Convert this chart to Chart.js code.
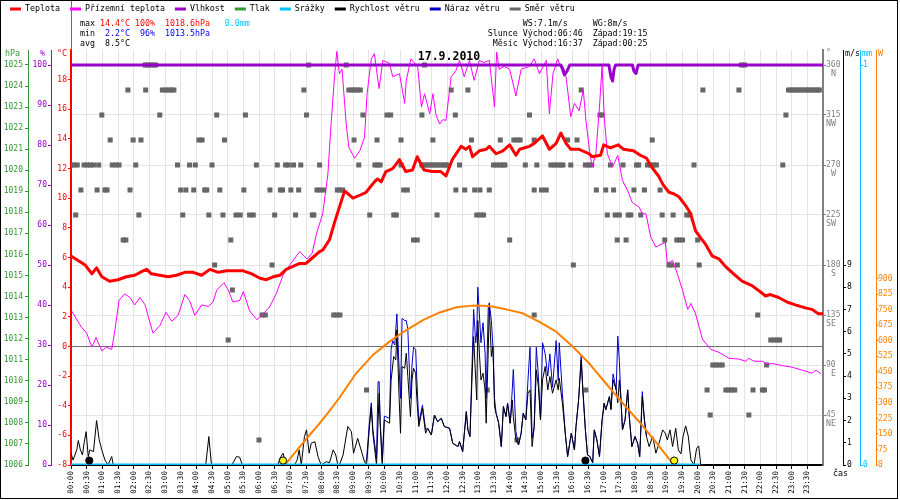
<!DOCTYPE html>
<html>
<head>
<meta charset="utf-8">
<title>17.9.2010</title>
<script src="https://cdn.jsdelivr.net/npm/chart.js@4.4.1/dist/chart.umd.min.js"></script>
<style>
html,body{margin:0;padding:0;background:#ffffff;}
canvas{display:block;}
</style>
</head>
<body>
<canvas id="chart" width="900" height="500"></canvas>
<script>
// ================= DATA =================
const chartTitle = '17.9.2010';
const timeLabels = ['00:00','00:30','01:00','01:30','02:00','02:30','03:00','03:30','04:00','04:30','05:00','05:30',
  '06:00','06:30','07:00','07:30','08:00','08:30','09:00','09:30','10:00','10:30','11:00','11:30',
  '12:00','12:30','13:00','13:30','14:00','14:30','15:00','15:30','16:00','16:30','17:00','17:30',
  '18:00','18:30','19:00','19:30','20:00','20:30','21:00','21:30','22:00','22:30','23:00','23:30'];

// times are minutes after midnight
const tempTimes = [0,27,40,49,59,74,90,106,122,138,145,154,170,186,202,218,234,250,266,282,298,330,346,362,374,387,400,412,425,438,450,463,476,482,495,505,514,524,540,553,565,581,587,594,603,616,629,641,654,663,676,692,708,718,730,747,756,763,769,782,795,801,814,827,840,852,859,878,887,903,916,929,938,948,957,973,992,998,1014,1020,1033,1048,1058,1077,1090,1102,1112,1125,1134,1145,1154,1164,1177,1186,1196,1206,1215,1228,1241,1253,1272,1285,1304,1323,1330,1339,1355,1371,1387,1406,1419,1431,1440];
const tempValues = [6.1,5.5,4.9,5.3,4.7,4.4,4.5,4.7,4.8,5.1,5.2,4.9,4.8,4.7,4.8,5.0,5.0,4.8,5.2,5.0,5.1,5.1,4.9,4.6,4.5,4.7,4.8,5.2,5.4,5.6,5.6,6.0,6.4,6.5,7.2,8.4,9.4,10.5,10.0,10.2,10.4,11.1,11.3,11.1,11.8,12.0,12.6,11.8,11.9,12.8,11.9,11.8,11.8,11.5,12.6,13.5,13.3,13.5,12.8,13.2,13.3,13.5,13.0,13.2,13.6,12.9,13.3,13.5,13.7,14.2,13.3,13.7,14.4,13.7,13.3,13.3,13.0,12.8,12.9,13.6,13.4,13.6,13.3,13.2,12.9,12.7,12.1,11.5,10.9,10.4,10.3,10.1,9.5,9.0,7.8,7.3,6.9,6.1,5.9,5.4,4.8,4.4,4.1,3.6,3.4,3.5,3.3,3.0,2.8,2.6,2.5,2.2,2.2];

const groundTimes = [1,20,30,40,48,59,68,78,84,92,103,113,122,132,142,148,157,170,182,193,205,218,227,237,250,263,272,279,293,301,310,323,330,342,356,368,380,393,406,419,438,452,462,470,482,492,498,505,509,514,519,527,532,543,553,562,567,575,581,586,590,597,610,616,629,639,642,651,664,671,677,687,693,699,706,712,718,728,737,744,753,763,772,782,791,801,811,815,820,830,840,852,862,878,887,897,910,916,923,932,942,948,957,964,973,981,986,993,998,1005,1012,1017,1021,1027,1037,1047,1056,1066,1075,1088,1094,1101,1110,1120,1130,1138,1142,1152,1162,1171,1181,1187,1196,1209,1225,1241,1260,1279,1292,1298,1308,1324,1334,1343,1363,1381,1400,1419,1427,1436];
const groundValues = [2.4,1.3,0.9,-0.05,0.6,-0.3,-0.05,-0.2,1.1,3.1,3.55,3.3,2.8,3.3,2.8,2.0,0.9,1.4,2.3,1.7,2.1,3.5,3.1,2.1,2.8,2.7,3.0,3.8,4.3,3.8,3.0,3.1,3.7,2.4,1.8,2.2,2.65,3.55,4.8,5.5,6.4,5.9,6.3,7.6,8.95,11.65,15.0,18.4,19.9,18.4,18.7,15.0,13.45,12.7,13.2,14.1,17.05,19.4,19.75,18.4,17.4,19.3,19.1,18.2,18.4,16.4,17.95,19.4,18.85,16.15,17.05,15.7,17.05,15.6,15.0,15.3,15.25,18.2,18.6,19.3,18.2,19.3,17.95,19.3,19.15,19.3,16.15,19.86,18.7,18.9,18.7,16.9,18.7,18.9,19.4,18.4,19.3,15.7,18.4,19.4,18.4,18.2,15.5,16.4,15.9,17.3,15.25,13.2,12.1,13.0,16.15,18.96,15.5,13.0,12.1,12.9,11.2,10.5,9.7,9.4,8.95,8.95,7.4,6.7,6.9,7.0,5.6,5.8,4.8,3.8,2.5,2.9,2.2,0.5,-0.2,-0.4,-0.8,-0.85,-1.0,-0.8,-1.0,-1.0,-1.2,-1.15,-1.3,-1.4,-1.6,-1.8,-1.6,-1.85];

const humTimes = [0,938,942,945,950,955,1030,1034,1037,1040,1043,1075,1078,1082,1086,1440];
const humValues = [100,100,99,97.5,98.5,100,100,97,96,99,100,100,98.5,97.9,100,100];

const pressTimes = [];
const pressValues = [];

const rainTimes = [0,1205];
const rainValues = [0,0];

const windTimes = [0,4,11,14,18,22,25,29,33,36,43,49,54,59,65,71,78,81,258,264,269,308,317,323,328,396,400,406,412,428,433,437,441,447,451,456,460,467,473,479,489,495,502,507,511,514,521,530,537,541,549,562,566,571,575,578,585,590,592,596,600,610,613,618,622,624,628,631,634,639,642,645,650,653,656,660,662,666,673,679,683,690,696,702,709,715,725,731,741,744,750,757,760,764,768,771,775,777,779,782,785,789,793,795,799,801,805,808,811,814,819,824,828,833,836,841,845,847,852,857,862,866,871,875,879,883,887,891,895,899,903,908,913,917,922,929,933,935,941,947,951,958,964,967,972,977,980,985,989,993,999,1002,1007,1012,1017,1021,1024,1031,1034,1038,1044,1047,1050,1053,1056,1061,1066,1069,1074,1080,1085,1089,1094,1098,1102,1107,1114,1120,1126,1133,1138,1142,1147,1152,1158,1163,1168,1172,1177,1182,1187,1193,1198,1202,1206,1440];
const windValues = [0.53,0.22,0.68,1.1,0.68,0.45,0.98,1.5,0.38,0.68,0.6,2.0,1.13,0.68,0.22,0,0.38,0,0,1.28,0,0,0.38,0.35,0,0,0.3,0.53,0,0,0.22,0.68,0,1.28,1.58,0.53,0.98,1.05,0.38,0,0.15,0.1,0.68,0.45,0,0,0.45,1.73,1.5,0.53,1.2,0.15,0,1.58,2.63,1.43,0,3.23,1.88,0,2.03,1.88,3.83,4.88,4.73,6.08,3.23,1.43,4.43,4.35,5.03,3.98,2.18,3.83,4.35,4.13,3.08,1.73,2.55,1.43,1.65,1.35,2.25,1.95,2.1,1.73,1.65,0.98,0.83,1.05,0.6,2.4,1.58,1.28,3.98,5.78,3.83,2.93,6.5,5.03,3.83,4.13,3.38,1.88,5.18,7.1,4.88,5.33,2.63,2.33,1.88,0.83,2.63,2.18,2.78,1.88,2.93,2.18,1.13,0.9,1.43,2.33,2.03,3.23,3.38,0.83,1.73,4.28,3.53,2.03,3.83,4.43,3.38,3.98,3.23,3.83,3.38,3.9,2.78,1.28,0.38,1.43,0.68,1.73,2.93,4.73,3.38,1.58,0.45,0.4,0.1,1.58,1.13,0.38,2.03,2.78,2.48,3.08,2.5,3.83,3.38,2.8,3.83,3.0,1.58,2.03,3.38,2.18,0.83,1.28,0.98,0.38,3.08,2.03,1.28,0.83,1.28,0.53,0.98,1.58,1.43,1.13,1.58,0.83,1.65,0.68,0.5,1.28,1.76,1.3,0.23,0,0.75,0.86,0,0];

const gustTimes = [562,566,571,575,578,585,588,590,592,596,600,610,613,616,620,624,628,631,634,639,642,645,650,653,656,660,662,666,673,679,683,690,696,702,709,715,725,731,741,744,750,757,760,764,768,771,775,777,779,782,785,789,793,795,799,801,805,808,811,814,819,824,828,833,836,841,845,847,852,857,862,866,871,875,879,883,887,891,895,899,903,908,913,917,922,929,933,935,941,947,951,958,964,967,972,977,980,985,989,993,999,1002,1007,1012,1017,1021,1024,1031,1034,1038,1044,1047,1050,1053,1056,1061,1066,1069,1074,1080,1085,1089,1094,1098,1102];
const gustValues = [0.15,0.2,1.8,2.8,1.6,0.3,3.75,3.75,2.0,0.2,2.2,2.1,5.2,5.6,5.4,6.8,4.5,3.0,6.6,6.5,6.5,6.1,3.0,4.5,5.3,5.2,4.0,1.9,2.7,1.6,1.65,1.35,2.25,1.95,2.1,1.73,1.65,0.98,0.83,1.05,0.6,2.4,1.58,1.28,4.5,7.0,5.5,6.0,8.0,6.8,5.5,6.4,5.0,3.0,7.1,7.3,6.5,5.3,3.0,2.33,1.88,0.83,2.63,2.18,2.78,1.88,3.4,4.3,1.5,0.9,1.43,2.33,2.03,3.8,5.3,1.2,1.73,5.3,4.0,2.03,5.5,5.0,4.0,5.0,3.5,5.6,3.8,5.5,3.2,1.3,0.38,1.43,0.68,1.73,2.93,4.9,3.5,1.58,0.45,0.4,0.1,1.58,1.13,0.38,2.03,2.78,2.48,3.08,2.5,4.1,3.38,5.8,4.7,3.0,1.58,2.03,3.38,2.18,0.83,1.28,0.98,0.38,3.3,2.03,1.28];

// wind direction: compass level (degrees) and the sample times at that level
const windDirLevels = [360,337.5,315,292.5,270,247.5,225,202.5,180,157.5,135,112.5,90,67.5,45,22.5];
const windDirSamples = [
  [142,147,152,157,162,455,527,677,1284,1290],
  [109,143,175,181,187,192,197,446,532,538,543,548,554,728,760,977,1210,1279,1374,1379,1384,1389,1394,1399,1404,1409,1414,1419,1424,1429,1433],
  [59,170,279,334,451,559,605,612,672,736,878,1013,1017,1369],
  [75,119,134,245,251,294,542,586,632,693,767,822,848,854,860,887,951,969,1113],
  [0,6,12,25,31,37,43,53,79,86,92,124,204,227,238,270,355,395,411,416,426,440,476,551,582,587,592,632,672,677,682,687,692,697,702,707,712,717,720,744,809,815,821,827,831,870,892,919,925,931,937,942,957,985,991,997,1033,1057,1083,1087,1104,1110,1116,1121,1193,1363],
  [19,50,65,69,113,210,220,235,256,260,285,331,381,401,405,421,436,471,477,484,510,515,520,637,644,737,754,773,783,801,887,901,910,1006,1024,1039,1078,1098,1128],
  [9,130,214,264,291,316,324,342,349,390,430,462,465,572,618,623,701,777,784,790,1027,1042,1050,1067,1072,1091,1132,1153,1179,1185],
  [100,105,306,656,663,840,1046,1063,1137,1160,1165,1171,1200],
  [275,385,962,1145,1150,1161,1203],
  [309],
  [366,372,503,509,515,887,1315],
  [301,1340,1346,1352,1357],
  [1229,1235,1241,1247,1332],
  [566,797,986,1218,1254,1260,1265,1271,1306,1324,1328],
  [1224,1298],
  [360,854]
];
const compassNames = {45:'NE',90:'E',135:'SE',180:'S',225:'SW',270:'W',315:'NW',360:'N'};

const solarTimes = [406,412,425,438,457,476,495,514,546,578,610,642,674,706,738,769,801,833,865,897,929,961,993,1024,1056,1088,1120,1152,1155];
const solarValues = [0,8,48,88,145,201,262,325,443,531,596,652,700,737,762,770,768,752,733,692,644,571,489,395,300,209,110,8,0];

const sunMarkTimes = [406,1155];
const moonMarkTimes = [35,985];
const markLevel = 0.2; // m/s scale

const legendLabels = ['Teplota','Přízemní teplota','Vlhkost','Tlak','Srážky','Rychlost větru','Náraz větru','Směr větru'];

const statNames = ['max','min','avg'];
const statTemp = ['14.4°C','2.2°C','8.5°C'];
const statHum = ['100%','96%',''];
const statPress = ['1018.6hPa','1013.5hPa',''];
const statRain = ['0.0mm','',''];
const windMaxText = ['WS:7.1m/s','WG:8m/s'];
const sunText = ['Slunce','Východ:06:46','Západ:19:15'];
const moonText = ['Měsíc','Východ:16:37','Západ:00:25'];

// ================= STYLE =================
const MONO = '"DejaVu Sans Mono", "Liberation Mono", monospace';
const FS = 8.3;
const COL = {
  temp:'#ff0000', ground:'#ff00ff', hum:'#9900cc', press:'#339933', rain:'#00bfff',
  wind:'#000000', gust:'#0000cc', dir:'#666666', solar:'#ff8000', deg:'#808080',
  minBlue:'#0000ee', grid:'#e4e4e4', zero:'#6e6e6e'
};

const pts = (ts, vs) => ts.map((t, i) => ({x: t, y: vs[i]}));
const dirPoints = [];
windDirLevels.forEach((deg, i) => windDirSamples[i].forEach(t => dirPoints.push({x: t, y: deg})));

const lineDs = (label, data, color, width, axis, order, legendColor) => ({
  type: 'line', label, data, borderColor: color, backgroundColor: color, borderWidth: width,
  pointRadius: 0, fill: false, tension: 0, yAxisID: axis, xAxisID: 'x', order,
  borderJoinStyle: 'round', legendColor
});

const datasets = [
  lineDs(legendLabels[0], pts(tempTimes, tempValues), COL.temp, 3, 'yT', 3, COL.temp),
  lineDs(legendLabels[1], pts(groundTimes, groundValues), COL.ground, 1, 'yT', 4, COL.ground),
  lineDs(legendLabels[2], pts(humTimes, humValues), COL.hum, 3, 'yP', 2, COL.hum),
  lineDs(legendLabels[3], pts(pressTimes, pressValues), COL.press, 1, 'yH', 9, COL.press),
  lineDs(legendLabels[4], pts(rainTimes, rainValues), COL.rain, 3, 'yR', 1, COL.rain),
  lineDs(legendLabels[5], pts(windTimes, windValues), COL.wind, 1, 'yS', 6, COL.wind),
  lineDs(legendLabels[6], pts(gustTimes, gustValues), COL.gust, 1, 'yS', 7, COL.gust),
  { type: 'line', label: legendLabels[7], data: dirPoints, showLine: false, yAxisID: 'yD', xAxisID: 'x',
    pointStyle: 'rect', pointRadius: 3.55, pointBackgroundColor: COL.dir, pointBorderWidth: 0,
    borderColor: COL.dir, order: 8, legendColor: COL.dir },
  lineDs('Sluneční záření', pts(solarTimes, solarValues), COL.solar, 2, 'yW', 5, null),
  { type: 'line', label: 'Slunce', data: sunMarkTimes.map(t => ({x: t, y: markLevel})), showLine: false,
    yAxisID: 'yS', xAxisID: 'x', pointStyle: 'circle', pointRadius: 3.6, pointBackgroundColor: '#ffff00',
    pointBorderColor: '#000', pointBorderWidth: 1, order: 0 },
  { type: 'line', label: 'Měsíc', data: moonMarkTimes.map(t => ({x: t, y: markLevel})), showLine: false,
    yAxisID: 'yS', xAxisID: 'x', pointStyle: 'circle', pointRadius: 3.6, pointBackgroundColor: '#000',
    pointBorderColor: '#000', pointBorderWidth: 1, order: 0 }
];

const tickFont = {family: MONO, size: 8};
const limitTicks = (lo, hi) => s => { s.ticks = s.ticks.filter(t => t.value >= lo - 1e-9 && t.value <= hi + 1e-9); };
const fixWidth = w => s => { s.width = w; };

function yScale(o) {
  return {
    type: 'linear', position: o.pos, weight: o.weight, min: o.min, max: o.max,
    afterFit: fixWidth(o.width), afterBuildTicks: limitTicks(o.lo, o.hi),
    ticks: { stepSize: o.step, includeBounds: false, maxTicksLimit: 200, autoSkip: false,
             color: o.color, font: tickFont, padding: o.pad, callback: v => String(v) },
    grid: Object.assign({ drawOnChartArea: false, drawTicks: true, tickLength: o.tl, tickColor: o.color, color: o.color }, o.grid || {}),
    border: { display: true, color: o.color, width: o.bw || 1 }
  };
}

// ================= PLUGIN: texts & frame =================
const overlayPlugin = {
  id: 'overlay',
  afterDraw(chart) {
    const ctx = chart.ctx, ca = chart.chartArea, sc = chart.scales;
    ctx.save();
    ctx.textBaseline = 'middle';
    ctx.font = FS + 'px ' + MONO;

    // legend
    let x = 10;
    chart.data.datasets.forEach(ds => {
      if (!ds.legendColor) return;
      ctx.fillStyle = ds.legendColor;
      ctx.fillRect(x, 7.5, 11, 3);
      x += 15;
      ctx.fillStyle = '#000';
      ctx.textAlign = 'left';
      ctx.fillText(ds.label, x, 9);
      x += ctx.measureText(ds.label).width + 10;
    });

    // statistics
    const cw = ctx.measureText('0').width;
    const rowsY = [24.3, 34.3, 43.7];
    const statColors = [COL.temp, COL.minBlue, '#000'];
    const col = c => 80 + c * cw;
    statNames.forEach((name, i) => {
      const y = rowsY[i];
      ctx.textAlign = 'left'; ctx.fillStyle = '#000'; ctx.fillText(name, col(0), y);
      ctx.fillStyle = statColors[i];
      ctx.textAlign = 'right';
      ctx.fillText(statTemp[i], col(10), y);
      ctx.fillText(statHum[i], col(15), y);
      ctx.textAlign = 'left';
      ctx.fillText(statPress[i], col(17), y);
      ctx.fillStyle = COL.rain;
      ctx.fillText(statRain[i], col(29), y);
    });
    const rx = 522.7, rx2 = rx + 14 * cw;
    ctx.fillStyle = '#000';
    ctx.textAlign = 'left';
    ctx.fillText(windMaxText[0], rx, rowsY[0]);
    ctx.fillText(windMaxText[1], rx2, rowsY[0]);
    [sunText, moonText].forEach((t, i) => {
      const y = rowsY[i + 1];
      ctx.textAlign = 'right'; ctx.fillText(t[0], rx - cw, y);
      ctx.textAlign = 'left'; ctx.fillText(t[1], rx, y); ctx.fillText(t[2], rx2, y);
    });

    // axis titles
    const ty = 54;
    ctx.textAlign = 'left'; ctx.fillStyle = COL.press; ctx.fillText('hPa', sc.yH.left + 5, ty);
    ctx.textAlign = 'right'; ctx.fillStyle = COL.hum; ctx.fillText('%', sc.yP.right - 6, ty);
    ctx.fillStyle = COL.temp; ctx.fillText('°C', sc.yT.right - 4, ty);
    ctx.textAlign = 'left';
    ctx.fillStyle = COL.deg; ctx.fillText('°', sc.yD.left + 3, ty - 1);
    ctx.fillStyle = '#000'; ctx.fillText('m/s', sc.yS.left + 2, ty);
    ctx.fillStyle = COL.rain; ctx.fillText('mm', sc.yR.left + 2, ty);
    ctx.fillStyle = COL.solar; ctx.fillText('W', sc.yW.left + 2, ty);
    ctx.fillStyle = '#000'; ctx.fillText('čas', sc.yD.left + 10, ca.bottom + 8.5);

    // compass names under direction ticks
    ctx.fillStyle = COL.deg; ctx.textAlign = 'right';
    sc.yD.ticks.forEach(t => {
      const name = compassNames[t.value];
      if (name) ctx.fillText(name, sc.yD.left + 3 + 2 * cw, sc.yD.getPixelForValue(t.value) + 8.5);
    });

    // title
    ctx.font = 'bold 11.5px ' + MONO;
    ctx.fillStyle = '#000'; ctx.textAlign = 'center';
    ctx.fillText(chartTitle, 449, 57);

    // green separator above the plot and outer frame
    ctx.strokeStyle = COL.press; ctx.lineWidth = 1;
    ctx.beginPath(); ctx.moveTo(ca.left + 0.5, 0); ctx.lineTo(ca.left + 0.5, ca.top); ctx.stroke();
    ctx.strokeStyle = '#000';
    ctx.strokeRect(0.5, 0.5, 897, 498);
    ctx.restore();
  }
};

new Chart(document.getElementById('chart'), {
  type: 'line',
  data: { datasets },
  plugins: [overlayPlugin],
  options: {
    responsive: false, animation: false, events: [],
    layout: { padding: { top: 50, left: 0, right: 0, bottom: 0 }, autoPadding: false },
    plugins: { legend: { display: false }, tooltip: { enabled: false }, title: { display: false } },
    scales: {
      x: {
        type: 'linear', position: 'bottom', min: 0, max: 1440,
        afterBuildTicks: s => { s.ticks = s.ticks.filter(t => t.value < 1440); },
        afterFit: s => { s.height = 35; },
        ticks: { stepSize: 30, maxTicksLimit: 200, autoSkip: false, minRotation: 90, maxRotation: 90, padding: 2,
                 color: '#000', font: {family: MONO, size: 7.6}, callback: v => timeLabels[Math.round(v / 30)] },
        grid: { color: COL.grid, lineWidth: 1, drawTicks: true, tickLength: 4, tickColor: '#000' },
        border: { display: true, color: '#000', width: 2 }
      },
      yH: yScale({pos:'left', weight:3, min:1006, max:1025.71, width:28, lo:1006, hi:1025, step:1, color:COL.press, pad:2, tl:3}),
      yP: yScale({pos:'left', weight:2, min:0, max:103.75, width:23, lo:0, hi:100, step:10, color:COL.hum, pad:1, tl:3}),
      yT: yScale({pos:'left', weight:1, min:-8, max:20, width:20, lo:-8, hi:18, step:2, color:COL.temp, pad:1, tl:3, bw:2,
                  grid: { drawOnChartArea: true, color: c => (c.tick && c.tick.value === 0) ? COL.zero : 'rgba(0,0,0,0)', tickColor: COL.temp }}),
      yD: yScale({pos:'right', weight:1, min:0, max:373.5, width:20, lo:45, hi:360, step:45, color:COL.deg, pad:0, tl:3, bw:2,
                  grid: { drawOnChartArea: true, color: COL.grid, tickColor: COL.deg }}),
      yS: yScale({pos:'right', weight:2, min:0, max:18.675, width:17, lo:0, hi:9, step:1, color:'#000', pad:1, tl:3}),
      yR: yScale({pos:'right', weight:3, min:0, max:1.0375, width:16, lo:0, hi:1, step:1, color:COL.rain, pad:0, tl:3}),
      yW: yScale({pos:'right', weight:4, min:0, max:2005, width:24, lo:0, hi:900, step:75, color:COL.solar, pad:0, tl:2})
    }
  }
});
</script>
</body>
</html>
